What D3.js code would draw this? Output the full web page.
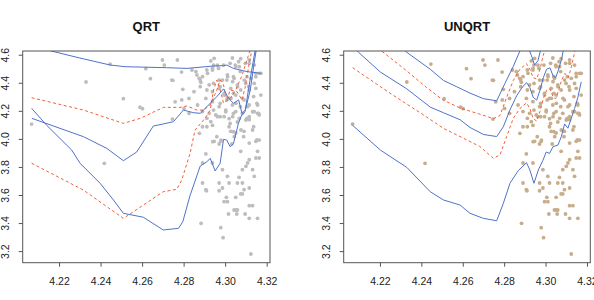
<!DOCTYPE html>
<html>
<head>
<meta charset="utf-8">
<script src="https://cdn.jsdelivr.net/npm/d3@7"></script>
<style>
body { margin: 0; background: #fff; }
svg { display: block; font-family: "Liberation Sans", Arial, sans-serif; }
</style>
</head>
<body>
<svg width="594" height="300"></svg>
<script>
// tick labels
var xTicks = [4.22, 4.24, 4.26, 4.28, 4.30, 4.32];
var yTicks = [3.2, 3.4, 3.6, 3.8, 4.0, 4.2, 4.4, 4.6];
var titles = ["QRT", "UNQRT"];

// observations (same in both panels)
var points = [
  [4.2068,4.109],[4.233,4.409],[4.2446,4.537],[4.251,4.29],[4.259,4.229],[4.2602,4.219],
  [4.2618,4.504],[4.2640,4.433],[4.2698,4.566],[4.2707,4.530],[4.2748,4.421],[4.2770,4.566],
  [4.2790,4.48],[4.2796,4.357],[4.2791,4.281],[4.2418,3.829],[4.2759,4.268],[4.2746,4.145],
  [4.284,4.4945],[4.2864,4.459],[4.288,4.423],[4.2912,4.4945],[4.2944,4.530],[4.2968,4.506],
  [4.2992,4.530],[4.3024,4.542],[4.3049,4.530],[4.3065,4.554],[4.3097,4.542],[4.288,4.376],
  [4.2912,4.352],[4.2944,4.399],[4.2976,4.376],[4.3008,4.423],[4.304,4.447],[4.3073,4.483],
  [4.3105,4.447],[4.3113,4.376],[4.3137,4.305],[4.3161,4.186],[4.3153,4.257],[4.304,4.328],
  [4.3008,4.281],[4.2976,4.257],[4.2944,4.209],[4.304,4.186],[4.3073,4.233],[4.3105,4.150],
  [4.3137,4.090],[4.3024,4.114],[4.2976,4.162],[4.2912,4.150],[4.304,4.055],[4.3089,4.019],
  [4.3153,3.996],[4.296,4.019],[4.2876,4.043],[4.2912,4.09],
  [4.2743,4.423],[4.2891,4.447],[4.2883,4.407],[4.2931,4.559],[4.2947,4.578],[4.2963,4.530],
  [4.2939,4.506],[4.3035,4.580],[4.3075,4.575],[4.3116,4.566],[4.314,4.530],[4.3164,4.471],
  [4.3051,4.518],[4.3011,4.459],[4.3043,4.435],[4.2987,4.423],[4.2923,4.388],[4.2971,4.364],
  [4.2939,4.340],[4.2995,4.316],[4.3019,4.292],[4.3051,4.316],[4.3075,4.352],[4.3099,4.399],
  [4.3124,4.435],[4.3148,4.447],[4.3091,4.281],[4.3116,4.245],[4.314,4.198],[4.3164,4.174],
  [4.3035,4.245],[4.3003,4.209],[4.2971,4.233],[4.2939,4.269],[4.2907,4.292],[4.2867,4.245],
  [4.2826,4.292],[4.2802,4.221],[4.2826,4.186],[4.2891,4.198],[4.2923,4.186],[4.2955,4.174],
  [4.2995,4.162],[4.3051,4.198],[4.3083,4.186],[4.3116,4.162],[4.3156,4.245],[4.2850,4.340],
  [4.3148,4.364],[4.3172,4.316],[4.3059,4.388],[4.3027,4.364],
  [4.2859,4.483],[4.2875,4.435],[4.2915,4.471],[4.3012,4.447],[4.3036,4.411],[4.306,4.376],
  [4.3092,4.423],[4.3116,4.352],[4.3148,4.471],[4.3172,4.471],[4.2995,4.328],[4.3028,4.293],
  [4.3052,4.257],[4.3084,4.293],[4.3108,4.233],[4.3132,4.197],[4.3156,4.186],[4.3003,4.197],
  [4.3036,4.162],[4.3068,4.150],[4.31,4.138],[4.2963,4.162],[4.2931,4.126],[4.2891,4.09],
  [4.3019,4.09],[4.3076,4.067],[4.3132,4.067],[4.3044,4.019],[4.298,3.995],[4.294,3.984],
  [4.3164,3.995],[4.2939,4.494],[4.2971,4.423],[4.3068,4.518],[4.3116,4.542],[4.314,4.399],
  [4.2939,4.1001],[4.3019,4.1476],[4.3059,4.1239],[4.3116,4.1405],[4.3027,4.0574],[4.3091,4.0574],
  [4.3051,4.0455],[4.2947,3.986],[4.2979,3.986],[4.2971,3.967],[4.3032,3.967],[4.3116,3.974],
  [4.3148,3.986],[4.3075,3.915],[4.3156,3.915],[4.2907,3.896],[4.3116,3.8554],[4.3148,3.8673],
  [4.3164,3.8673],[4.3108,3.8317],[4.2891,3.8317],[4.2939,3.8317],[4.31,3.808],[4.2987,3.784],
  [4.3083,3.784],[4.3132,3.784],[4.3011,3.737],[4.3067,3.7295],[4.314,3.737],[4.2891,3.689],
  [4.2971,3.689],[4.3019,3.689],[4.3059,3.689],[4.3083,3.689],[4.3116,3.6535],[4.2907,3.6416],
  [4.2987,3.6535],[4.3091,3.6416],
  [4.2884,3.4016],[4.2979,3.3707],[4.299,3.2995],[4.3124,3.183],[4.3016,3.468],[4.3056,3.468],
  [4.3096,3.468],[4.3043,3.4966],[4.3051,3.4966],[4.3059,3.4966],[4.3116,3.4373],[4.3156,3.4373],
  [4.3116,3.5275],[4.3132,3.5275],[4.2995,3.556],[4.3011,3.556],[4.3006,3.587],[4.3051,3.587],
  [4.3075,3.611],[4.3083,3.611],[4.2971,3.634],[4.291,3.634]
];

// QRT fitted quantile curves
var qrtBlueTop = [[4.205,4.70],[4.2157,4.632],[4.2300,4.58],[4.2446,4.53],[4.2518,4.518],[4.2719,4.511],
  [4.2816,4.506],[4.2944,4.523],[4.2992,4.525],[4.3008,4.53],[4.304,4.506],[4.3105,4.483],[4.3174,4.471]];
var qrtBlueMid = [[4.2069,4.150],[4.2318,4.019],[4.243,3.936],[4.251,3.848],[4.2574,3.91],[4.2654,4.095],
  [4.2702,4.11],[4.2751,4.126],[4.2799,4.209],[4.2848,4.19],[4.288,4.186],[4.2912,4.233],[4.296,4.305],
  [4.2992,4.36],[4.3008,4.316],[4.3024,4.281],[4.304,4.257],[4.3065,4.281],[4.3081,4.186],[4.3097,4.209],
  [4.3121,4.352],[4.3137,4.518],[4.315,4.64],[4.316,4.72]];
var qrtBlueLow = [[4.2068,4.221],[4.2141,4.10],[4.2261,3.924],[4.2301,3.83],[4.2398,3.687],[4.2462,3.568],
  [4.251,3.473],[4.2606,3.445],[4.2702,3.354],[4.2775,3.366],[4.2796,3.413],[4.2831,3.60],[4.288,3.81],
  [4.2912,3.84],[4.2928,3.865],[4.2952,3.775],[4.2976,3.83],[4.2992,4.00],[4.3008,3.995],[4.3024,3.948],
  [4.304,3.97],[4.3064,4.115],[4.308,4.174],[4.3096,4.197],[4.3112,4.352],[4.3128,4.494],[4.3145,4.64],
  [4.3155,4.72]];
var qrtRedUp = [[4.2068,4.297],[4.2318,4.209],[4.251,4.114],[4.2591,4.150],[4.2703,4.228],[4.2783,4.228],
  [4.2816,4.238],[4.2864,4.209],[4.2896,4.209],[4.2928,4.245],[4.296,4.352],[4.2976,4.423],[4.2992,4.388],
  [4.3008,4.281],[4.3024,4.352],[4.3057,4.340],[4.3081,4.281],[4.3097,4.376],[4.3113,4.518],[4.3129,4.64],
  [4.314,4.72]];
var qrtRedLow = [[4.2068,3.83],[4.2317,3.639],[4.251,3.437],[4.2606,3.532],[4.2702,3.627],[4.2767,3.644],
  [4.2791,3.711],[4.2831,3.90],[4.2855,4.067],[4.2903,4.15],[4.2928,4.209],[4.2944,4.352],[4.296,4.423],
  [4.2976,4.352],[4.2992,4.26],[4.3024,4.29],[4.305,4.35],[4.308,4.45],[4.3105,4.566],[4.3121,4.64],
  [4.313,4.72]];

// UNQRT fitted quantile curves
var unqrtBlueTop = [[4.225,4.72],[4.233,4.62],[4.2443,4.50],[4.2507,4.42],[4.2571,4.375],[4.2635,4.33],
  [4.27,4.29],[4.2764,4.275],[4.2804,4.40],[4.2844,4.52],[4.2876,4.63],[4.2895,4.70],[4.2915,4.66],
  [4.2931,4.60],[4.2947,4.53],[4.2963,4.56],[4.298,4.66],[4.299,4.72]];
var unqrtBlueMid = [[4.205,4.70],[4.2097,4.62],[4.2202,4.48],[4.233,4.36],[4.2443,4.23],[4.2507,4.19],
  [4.2587,4.14],[4.2635,4.085],[4.27,4.035],[4.2764,4.02],[4.2796,4.09],[4.2828,4.21],[4.286,4.31],
  [4.2884,4.365],[4.2908,4.405],[4.2924,4.37],[4.294,4.30],[4.2957,4.28],[4.2973,4.35],[4.2989,4.44],
  [4.3005,4.50],[4.3021,4.51],[4.3037,4.45],[4.3049,4.44],[4.3061,4.49],[4.3077,4.57],[4.3085,4.63],
  [4.310,4.72]];
var unqrtBlueLow = [[4.2068,4.10],[4.2202,3.924],[4.233,3.80],[4.2443,3.627],[4.2507,3.568],[4.2587,3.532],
  [4.2635,3.473],[4.27,3.437],[4.2764,3.42],[4.2796,3.544],[4.2828,3.687],[4.2868,3.777],[4.2908,3.834],
  [4.2924,3.782],[4.2944,3.687],[4.2965,3.782],[4.2987,3.85],[4.3003,3.91],[4.3019,3.90],[4.3036,3.948],
  [4.306,3.96],[4.3076,4.02],[4.3092,4.11],[4.3108,4.08],[4.3124,4.15],[4.314,4.22],[4.3156,4.30],
  [4.3172,4.41]];
var unqrtRedUp = [[4.216,4.72],[4.2208,4.63],[4.2328,4.49],[4.2425,4.37],[4.2505,4.28],[4.2593,4.22],
  [4.2682,4.18],[4.2748,4.148],[4.2780,4.17],[4.2812,4.30],[4.2844,4.42],[4.2876,4.50],[4.2908,4.54],
  [4.2924,4.50],[4.294,4.44],[4.2957,4.43],[4.2973,4.50],[4.2989,4.60],[4.3005,4.68],[4.301,4.72]];
var unqrtRedLow = [[4.2068,4.511],[4.2248,4.33],[4.2425,4.16],[4.2505,4.08],[4.2601,4.01],[4.2682,3.95],
  [4.2748,3.865],[4.2780,3.89],[4.2812,4.02],[4.2844,4.15],[4.2876,4.22],[4.2908,4.26],[4.2924,4.22],
  [4.294,4.15],[4.2957,4.13],[4.2973,4.20],[4.2989,4.29],[4.3005,4.35],[4.3021,4.36],[4.3037,4.30],
  [4.3049,4.29],[4.3061,4.34],[4.3077,4.42],[4.3093,4.47],[4.311,4.44],[4.3125,4.52],[4.314,4.62],
  [4.315,4.72]];

var svg = d3.select("svg");

var panels = [
  { left: 22.7, right: 270, title: titles[0], pointColor: "#bdbdbd",
    blue: [qrtBlueTop, qrtBlueMid, qrtBlueLow], red: [qrtRedUp, qrtRedLow] },
  { left: 343.7, right: 590.3, title: titles[1], pointColor: "#c7ad8c",
    blue: [unqrtBlueTop, unqrtBlueMid, unqrtBlueLow], red: [unqrtRedUp, unqrtRedLow] }
];

var plotTop = 51, plotBottom = 262.7;

panels.forEach(function (p, i) {
  var x = d3.scaleLinear().domain([4.2025, 4.3216]).range([p.left, p.right]);
  var y = d3.scaleLinear().domain([3.121, 4.630]).range([plotBottom, plotTop]);

  var g = svg.append("g").attr("class", "panel");

  g.append("clipPath")
      .attr("id", "clip" + i)
    .append("rect")
      .attr("x", p.left)
      .attr("y", plotTop)
      .attr("width", p.right - p.left)
      .attr("height", plotBottom - plotTop);

  // title
  g.append("text")
      .attr("x", (p.left + p.right) / 2)
      .attr("y", 31)
      .attr("text-anchor", "middle")
      .attr("font-weight", "bold")
      .attr("font-size", "13px")
      .attr("fill", "#111")
      .text(p.title);

  // x axis
  var xAxis = g.append("g")
      .attr("transform", "translate(0," + plotBottom + ")")
      .call(d3.axisBottom(x)
          .tickValues(xTicks)
          .tickSize(4)
          .tickPadding(11)
          .tickFormat(d3.format(".2f")));
  xAxis.select(".domain").remove();
  xAxis.selectAll("line").attr("stroke", "#555");
  xAxis.selectAll("text")
      .attr("font-size", "10.5px")
      .attr("font-family", "Liberation Sans, Arial, sans-serif")
      .attr("fill", "#222");

  // y axis, labels turned like R
  var yAxis = g.append("g");
  yAxis.selectAll("line")
      .data(yTicks)
      .enter().append("line")
      .attr("x1", p.left)
      .attr("x2", p.left - 4)
      .attr("y1", function (d) { return y(d); })
      .attr("y2", function (d) { return y(d); })
      .attr("stroke", "#555");
  yAxis.selectAll("text")
      .data(yTicks)
      .enter().append("text")
      .attr("transform", function (d) {
          return "translate(" + (p.left - 17) + "," + y(d) + ") rotate(-90)";
      })
      .attr("text-anchor", "middle")
      .attr("dy", "0.35em")
      .attr("font-size", "10.5px")
      .attr("fill", "#222")
      .text(function (d) { return d.toFixed(1); });

  // points
  g.append("g")
      .selectAll("circle")
      .data(points)
      .enter().append("circle")
      .attr("cx", function (d) { return x(d[0]); })
      .attr("cy", function (d) { return y(d[1]); })
      .attr("r", 1.9)
      .attr("fill", p.pointColor);

  var line = d3.line()
      .x(function (d) { return x(d[0]); })
      .y(function (d) { return y(d[1]); });

  var curves = g.append("g").attr("clip-path", "url(#clip" + i + ")");

  curves.selectAll("path.red")
      .data(p.red)
      .enter().append("path")
      .attr("class", "red")
      .attr("d", line)
      .attr("fill", "none")
      .attr("stroke", "#f0603c")
      .attr("stroke-width", 1)
      .attr("stroke-dasharray", "3,2.5");

  curves.selectAll("path.blue")
      .data(p.blue)
      .enter().append("path")
      .attr("class", "blue")
      .attr("d", line)
      .attr("fill", "none")
      .attr("stroke", "#5072c8")
      .attr("stroke-width", 1);

  // box
  g.append("rect")
      .attr("x", p.left)
      .attr("y", plotTop)
      .attr("width", p.right - p.left)
      .attr("height", plotBottom - plotTop)
      .attr("fill", "none")
      .attr("stroke", "#555")
      .attr("stroke-width", 1);
});
</script>
</body>
</html>
